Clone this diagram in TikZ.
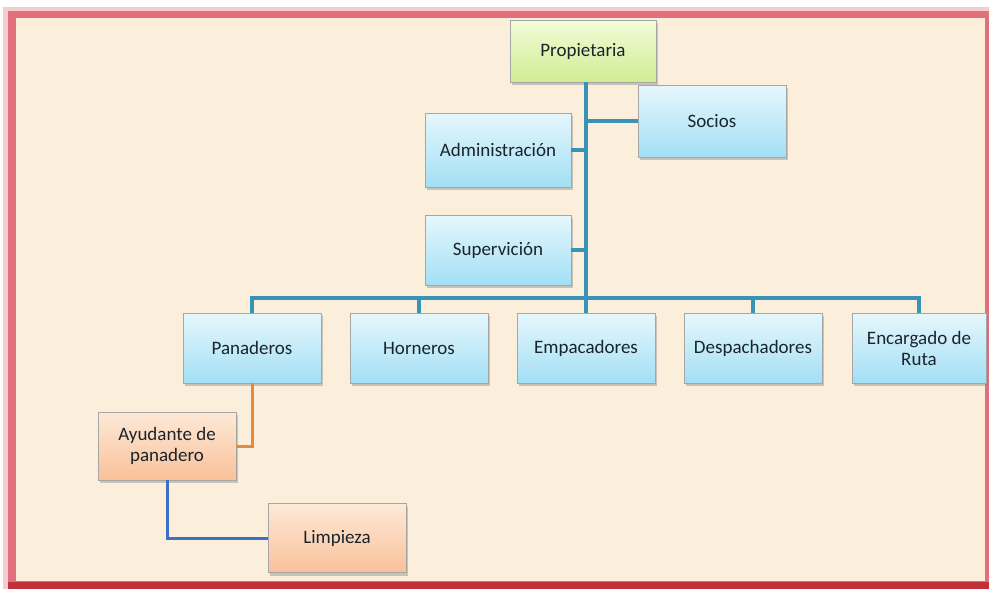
\documentclass[tikz,border=0pt]{standalone}
\usepackage{fontspec}
\setmainfont{Carlito}
\usetikzlibrary{shadows,calc}
\definecolor{bgcream}{HTML}{FBEEDA}
\definecolor{frame}{HTML}{E2707A}
\definecolor{framedark}{HTML}{C0313C}
\definecolor{conn}{HTML}{3A92B8}
\definecolor{connor}{HTML}{E8893A}
\definecolor{connbl}{HTML}{3C70C2}
\definecolor{bluetop}{HTML}{E6F7FC}
\definecolor{bluebot}{HTML}{A2DFF5}
\definecolor{greentop}{HTML}{F2FBD8}
\definecolor{greenbot}{HTML}{CFEE92}
\definecolor{ortop}{HTML}{FDE9D8}
\definecolor{orbot}{HTML}{F9C199}
\definecolor{txt}{HTML}{1A242C}
\tikzset{
  x=1pt,y=-1pt,
  box/.style={draw=black!35, line width=0.8pt, minimum width=138pt, minimum height=70pt,
    align=center, font=\fontsize{19}{21}\selectfont, text=txt, inner sep=2pt,
    drop shadow={shadow xshift=2pt, shadow yshift=-3pt, opacity=0.4}},
  bluebox/.style={box, top color=bluetop, bottom color=bluebot},
  greenbox/.style={box, top color=greentop, bottom color=greenbot},
  orbox/.style={box, top color=ortop, bottom color=orbot},
  link/.style={draw=conn, line width=3.5pt},
  linkor/.style={draw=connor, line width=3pt},
  linkbl/.style={draw=connbl, line width=3pt}
}
\begin{document}
\begin{tikzpicture}
\useasboundingbox (0,0) rectangle (989,589);
% frame
\fill[frame!35] (3,7) rectangle (989,589);
\fill[frame] (8,11) rectangle (989,589);
\fill[framedark] (8,582) rectangle (989,589);
\fill[bgcream] (16,18) rectangle (985,581);
% nodes
\node[greenbox, minimum width=146pt, minimum height=62pt] (prop) at (583,51) {Propietaria};
\node[bluebox, minimum width=148pt, minimum height=72pt] (soc) at (712,121) {Socios};
\node[bluebox, minimum width=146pt, minimum height=74pt] (adm) at (498,150) {Administración};
\node[bluebox, minimum width=146pt, minimum height=70pt] (sup) at (498,250) {Supervición};
\node[bluebox] (pan) at (252,348) {Panaderos};
\node[bluebox] (hor) at (419,348) {Horneros};
\node[bluebox] (emp) at (586,348) {Empacadores};
\node[bluebox] (des) at (753,348) {Despachadores};
\node[bluebox, minimum width=134pt] (enc) at (919,348) {Encargado de\\Ruta};
\node[orbox, minimum width=138pt, minimum height=68pt] (ayu) at (167,446) {Ayudante de\\panadero};
\node[orbox, minimum width=138pt, minimum height=69pt] (lim) at (337,538) {Limpieza};
% connectors
\coordinate (bus) at (586,298);
\draw[link] (prop.south -| bus) -- (bus);
\draw[link] (soc.west) -- (soc.west -| bus);
\draw[link] (adm.east) -- (adm.east -| bus);
\draw[link] (sup.east) -- (sup.east -| bus);
\draw[link] (pan.north) -- (pan.north |- bus) -- (enc.north |- bus) -- (enc.north);
\draw[link] (hor.north) -- (hor.north |- bus);
\draw[link] (emp.north) -- (emp.north |- bus);
\draw[link] (des.north) -- (des.north |- bus);
\draw[linkor] (pan.south) -- (pan.south |- ayu.east) -- (ayu.east);
\draw[linkbl] (ayu.south) -- (ayu.south |- lim.west) -- (lim.west);
\end{tikzpicture}
\end{document}
